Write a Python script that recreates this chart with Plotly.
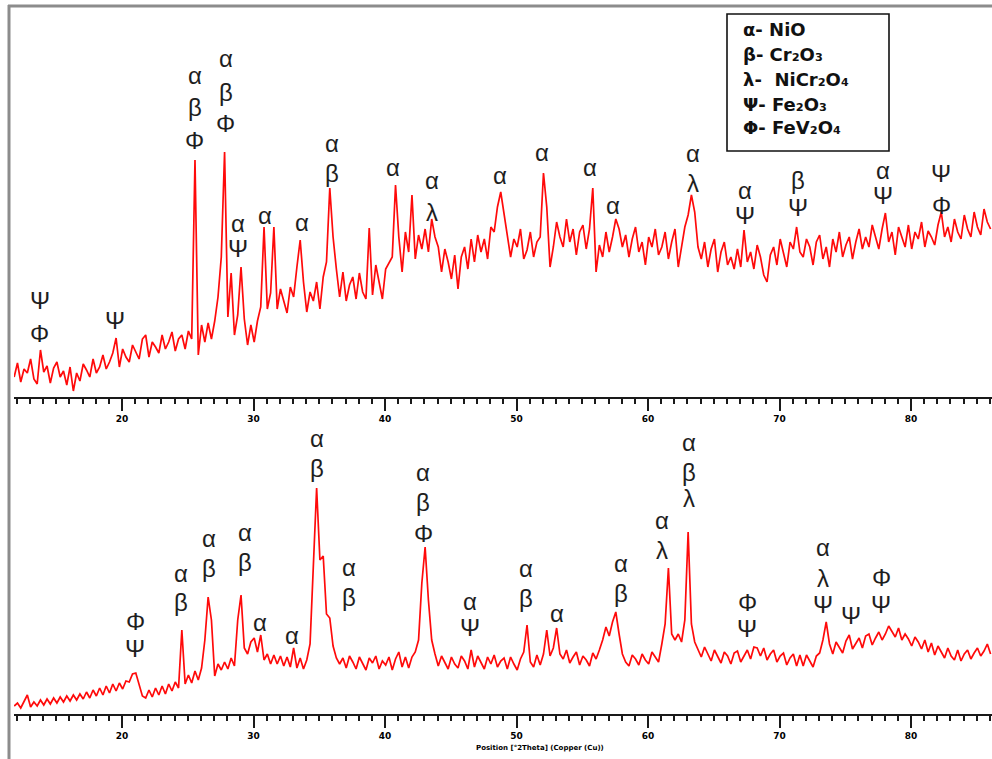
import plotly.graph_objects as go

# ---------------- data ----------------
# scan: start angle and step (deg 2-theta)
scan_start = 11.8
scan_step = 0.25

# upper pattern, intensity (a.u.)
top_counts = [
    20, 34, 15, 28, 24, 38, 18, 13, 47, 25, 31, 14, 29, 35, 20, 26, 12, 30, 6, 24,
    16, 33, 27, 20, 38, 24, 30, 42, 28, 35, 44, 59, 30, 48, 40, 35, 52, 45, 38, 58,
    62, 40, 55, 50, 44, 62, 48, 55, 65, 46, 58, 62, 48, 66, 58, 237, 42, 72, 55, 74,
    58, 76, 100, 140, 245, 80, 124, 62, 82, 130, 78, 52, 72, 55, 76, 90, 170, 88, 104, 170,
    88, 108, 95, 84, 110, 100, 130, 157, 115, 85, 105, 96, 115, 88, 120, 135, 209, 160, 128, 100,
    125, 96, 112, 120, 98, 124, 105, 98, 169, 102, 132, 115, 98, 128, 134, 140, 212, 160, 125, 165,
    145, 202, 138, 162, 148, 168, 145, 178, 160, 150, 125, 148, 135, 118, 142, 108, 140, 150, 128, 158,
    135, 162, 145, 158, 138, 170, 165, 190, 205, 182, 163, 140, 158, 150, 168, 138, 147, 165, 140, 155,
    160, 224, 190, 130, 150, 175, 160, 150, 178, 155, 168, 142, 165, 172, 148, 168, 209, 125, 152, 140,
    165, 145, 160, 178, 168, 150, 162, 140, 158, 170, 145, 155, 132, 160, 150, 168, 142, 150, 165, 138,
    155, 168, 130, 152, 170, 182, 202, 185, 150, 138, 155, 130, 148, 158, 125, 145, 155, 132, 140, 128,
    148, 130, 167, 135, 145, 128, 152, 140, 122, 115, 142, 150, 132, 158, 145, 130, 155, 148, 170, 145,
    140, 158, 150, 132, 155, 162, 138, 150, 130, 158, 145, 165, 140, 152, 160, 138, 155, 168, 148, 160,
    150, 172, 160, 148, 168, 184, 155, 165, 142, 170, 160, 150, 172, 148, 165, 158, 175, 150, 166, 160,
    152, 172, 185, 160, 170, 155, 178, 165, 158, 182, 168, 160, 185, 170, 162, 188, 175, 168,
]

# lower pattern, intensity (a.u.)
bottom_counts = [
    8, 11, 6, 12, 19, 7, 12, 8, 14, 9, 15, 10, 16, 11, 17, 12, 18, 13, 19, 14,
    20, 15, 22, 16, 24, 18, 26, 19, 28, 21, 30, 23, 31, 25, 33, 32, 40, 41, 28, 18,
    16, 24, 17, 26, 19, 28, 20, 30, 23, 32, 26, 84, 30, 39, 31, 43, 34, 46, 74, 117,
    94, 38, 50, 44, 52, 45, 56, 48, 94, 119, 66, 60, 72, 76, 62, 79, 54, 60, 50, 59,
    50, 58, 48, 57, 47, 66, 46, 56, 45, 54, 70, 150, 226, 154, 158, 100, 96, 68, 56, 50,
    56, 46, 58, 52, 45, 57, 50, 44, 56, 51, 58, 45, 53, 49, 57, 44, 55, 62, 47, 57,
    46, 57, 62, 74, 131, 167, 114, 74, 60, 48, 58, 52, 45, 57, 50, 46, 58, 53, 45, 64,
    47, 58, 52, 45, 57, 50, 59, 47, 53, 56, 45, 57, 50, 44, 55, 62, 89, 52, 47, 59,
    49, 60, 84, 58, 66, 86, 60, 55, 64, 51, 57, 62, 49, 58, 54, 48, 61, 55, 64, 74,
    87, 78, 92, 102, 80, 60, 52, 48, 59, 55, 49, 60, 54, 50, 62, 57, 52, 70, 90, 146,
    80, 74, 80, 72, 94, 182, 90, 72, 64, 57, 67, 60, 53, 64, 57, 51, 62, 58, 50, 61,
    63, 52, 58, 64, 55, 67, 66, 58, 66, 54, 60, 64, 52, 58, 61, 49, 56, 60, 48, 59,
    48, 59, 53, 47, 58, 61, 74, 92, 70, 60, 72, 66, 61, 73, 79, 65, 71, 76, 66, 78,
    80, 69, 76, 82, 74, 80, 88, 82, 77, 86, 74, 80, 75, 68, 77, 72, 65, 74, 62, 71,
    59, 68, 62, 56, 66, 58, 54, 64, 53, 60, 64, 55, 61, 66, 58, 63, 70, 60,
]

# phase labels: (2theta, [(symbol, height a.u.), ...])
top_labels = [
    (13.76, [("Ψ", 97), ("Φ", 64)]),
    (19.47, [("Ψ", 77)]),
    (25.55, [("α", 322), ("β", 290), ("Φ", 257)]),
    (27.90, [("α", 339), ("β", 305), ("Φ", 274)]),
    (28.82, [("α", 174), ("Ψ", 149)]),
    (30.87, [("α", 182)]),
    (33.69, [("α", 175)]),
    (35.97, [("α", 254), ("β", 224)]),
    (40.61, [("α", 230)]),
    (43.57, [("α", 217), ("λ", 185)]),
    (48.75, [("α", 222)]),
    (51.94, [("α", 245)]),
    (55.59, [("α", 230)]),
    (57.34, [("α", 192)]),
    (63.42, [("α", 244), ("λ", 214)]),
    (67.38, [("α", 207), ("Ψ", 182)]),
    (71.41, [("β", 217), ("Ψ", 190)]),
    (77.87, [("α", 227), ("Ψ", 202)]),
    (82.28, [("Ψ", 224), ("Φ", 192)]),
]

bottom_labels = [
    (20.99, [("Φ", 93), ("Ψ", 66)]),
    (24.49, [("α", 141), ("β", 112)]),
    (26.62, [("α", 176), ("β", 146)]),
    (29.35, [("α", 182), ("β", 152)]),
    (30.49, [("α", 92)]),
    (32.93, [("α", 79)]),
    (34.83, [("α", 276), ("β", 246)]),
    (37.26, [("α", 147), ("β", 117)]),
    (42.89, [("α", 242), ("β", 212), ("Φ", 181)]),
    (46.46, [("α", 113), ("Ψ", 87)]),
    (50.72, [("α", 146), ("β", 116)]),
    (53.08, [("α", 101)]),
    (57.95, [("α", 151), ("β", 121)]),
    (61.06, [("α", 194), ("λ", 164)]),
    (63.12, [("α", 272), ("β", 242), ("λ", 216)]),
    (67.53, [("Φ", 112), ("Ψ", 86)]),
    (73.31, [("α", 167), ("λ", 136), ("Ψ", 110)]),
    (75.44, [("Ψ", 99)]),
    (77.72, [("Φ", 137), ("Ψ", 110)]),
]

legend_lines = [
    "α- NiO",
    "β- Cr₂O₃",
    "λ-  NiCr₂O₄",
    "Ψ- Fe₂O₃",
    "Φ- FeV₂O₄",
]

tick_vals = [20, 30, 40, 50, 60, 70, 80]
tick_text = ["20", "30", "40", "50", "60", "70", "80"]
x_title = "Position [°2Theta] (Copper (Cu))"

# ---------------- figure ----------------
W, H = 992, 759
two_theta = [scan_start + scan_step * i for i in range(len(top_counts))]
two_theta_b = [scan_start + scan_step * i for i in range(len(bottom_counts))]

RED = "#ff0a0a"
fig = go.Figure()
fig.add_trace(go.Scatter(x=two_theta, y=top_counts, mode="lines",
                         line=dict(color=RED, width=1.7), xaxis="x", yaxis="y",
                         showlegend=False, hoverinfo="skip"))
fig.add_trace(go.Scatter(x=two_theta_b, y=bottom_counts, mode="lines",
                         line=dict(color=RED, width=1.7), xaxis="x2", yaxis="y2",
                         showlegend=False, hoverinfo="skip"))

x_range = [11.787, 86.157]
xdom = [14 / W, 1.0]

def xaxis_style(anchor):
    return dict(
        domain=xdom, range=x_range, anchor=anchor,
        showline=True, linecolor="#1a1a1a", linewidth=1.6,
        ticks="outside", ticklen=12, tickwidth=2, tickcolor="#1a1a1a",
        tickvals=tick_vals, ticktext=tick_text,
        tickfont=dict(family="DejaVu Sans", size=9, color="#000000", weight="bold"),
        minor=dict(dtick=1, tick0=0, ticks="outside", ticklen=5, tickwidth=1.6,
                   tickcolor="#1a1a1a", showgrid=False),
        showgrid=False, zeroline=False, fixedrange=True,
    )

fig.update_layout(
    width=W, height=H,
    margin=dict(l=0, r=0, t=0, b=0),
    paper_bgcolor="white", plot_bgcolor="white",
    xaxis=xaxis_style("y"),
    xaxis2=xaxis_style("y2"),
    yaxis=dict(domain=[(H - 397) / H, (H - 10) / H], range=[0, 387], visible=False,
               fixedrange=True),
    yaxis2=dict(domain=[(H - 714) / H, (H - 425) / H], range=[0, 289], visible=False,
                fixedrange=True),
)

annotations = []
label_font = dict(family="Liberation Sans", size=24, color="#1e1e1e")
for xa, ya, labels in (("x", "y", top_labels), ("x2", "y2", bottom_labels)):
    for pos, stack in labels:
        for sym, h in stack:
            annotations.append(dict(x=pos, y=h, xref=xa, yref=ya, text=sym,
                                    showarrow=False, xanchor="center",
                                    yanchor="middle", font=label_font))

# legend box
leg_y = [30, 55, 80, 105, 127]
for txt, py in zip(legend_lines, leg_y):
    annotations.append(dict(x=741 / W, y=(H - py) / H, xref="paper", yref="paper",
                            text=txt, showarrow=False, xanchor="left", yanchor="middle",
                            font=dict(family="DejaVu Sans", size=18, color="#111111",
                                      weight="bold")))

annotations.append(dict(x=540 / W, y=(H - 748) / H, xref="paper", yref="paper",
                        text=x_title, showarrow=False, xanchor="center", yanchor="middle",
                        font=dict(family="DejaVu Sans", size=7, color="#000000",
                                  weight="bold")))
fig.update_layout(annotations=annotations)

shapes = [
    # legend rectangle
    dict(type="rect", xref="paper", yref="paper", x0=727 / W, x1=889 / W,
         y0=(H - 151) / H, y1=(H - 14) / H, line=dict(color="#111111", width=1.6)),
    # outer frame (top and left)
    dict(type="line", xref="paper", yref="paper", x0=8 / W, x1=1.0,
         y0=(H - 6) / H, y1=(H - 6) / H, line=dict(color="#8c8c8c", width=3)),
    dict(type="line", xref="paper", yref="paper", x0=9 / W, x1=9 / W,
         y0=0, y1=(H - 5) / H, line=dict(color="#8c8c8c", width=3)),
]
fig.update_layout(shapes=shapes)

fig.write_html(
    "out.html",
    config={"displayModeBar": False},
    post_script="document.body.style.margin='0';document.body.style.overflow='hidden';",
)
